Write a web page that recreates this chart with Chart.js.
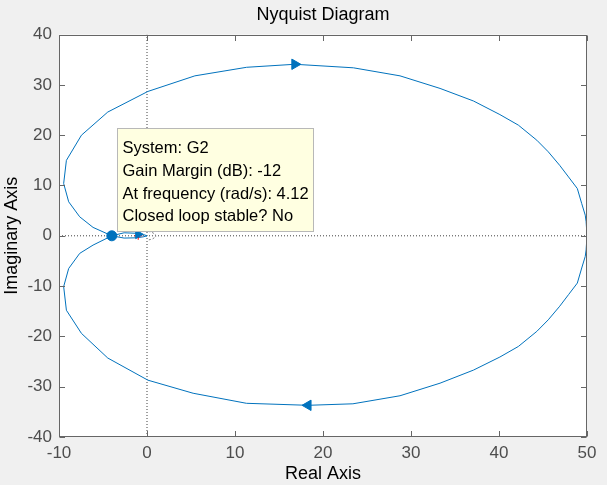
<!DOCTYPE html>
<html>
<head>
<meta charset="utf-8">
<script src="https://cdn.jsdelivr.net/npm/chart.js@4.4.1/dist/chart.umd.min.js"></script>
<style>
    html, body { margin: 0; padding: 0; background: #f0f0f0; }
    canvas { display: block; }
</style>
</head>
<body>
<canvas id="nyquist" width="607" height="485"></canvas>
<script>
// branch drawn for negative frequencies (upper half, runs origin -> (50,0))
const upperRe = [0, -0.4, -1.2, -2.6, -4.0, -6.13, -7.65, -8.9, -9.47, -9.16, -7.45, -4.46, 0.1, 5.44, 11.32, 16.8, 23.45, 28.75, 33.3, 37.1, 40.1, 42.2, 44.3, 45.6, 46.9, 47.9, 48.9, 49.4, 49.8, 49.9, 50.0];
const upperIm = [0, -0.2, -0.4, -0.45, 0, 1.67, 3.78, 6.76, 10.4, 15.0, 20.0, 24.6, 28.7, 31.8, 33.5, 34.1, 33.4, 31.8, 29.3, 26.8, 24.1, 22.0, 19.0, 16.7, 14.0, 11.7, 9.4, 6.4, 4.1, 2.8, 0];

// positive frequencies (lower half, runs (50,0) -> origin)
const lowerRe = [50.0, 49.9, 49.8, 49.4, 48.9, 47.9, 46.9, 45.6, 44.3, 42.2, 40.1, 37.1, 33.3, 28.75, 23.4, 18.3, 11.3, 5.24, 0.1, -4.46, -7.45, -9.16, -9.47, -8.9, -7.65, -6.13, -4.0, -2.6, -1.2, -0.4, 0];
const lowerIm = [0, -2.8, -4.1, -6.4, -9.4, -11.7, -14.0, -16.7, -19.0, -22.0, -24.1, -26.7, -29.3, -31.8, -33.4, -33.7, -33.3, -31.3, -28.7, -24.3, -19.4, -14.8, -10.1, -6.5, -3.5, -1.85, 0, 0.6, 0.5, 0.25, 0];

// little dashed arc next to the origin
const arcRe = [-0.3, 0.5, 0.95, 1.0, 0.6, 0.1];
const arcIm = [1.0, 0.75, 0.3, -0.2, -0.65, -0.85];

const arrowRe = [16.8, 18.3, -1.0];
const arrowIm = [34.1, -33.7, 0.3];

const marginRe = [-4.0];
const marginIm = [0];
const criticalRe = [-1];
const criticalIm = [0];

const xTickValues = [-10, 0, 10, 20, 30, 40, 50];
const yTickValues = [-40, -30, -20, -10, 0, 10, 20, 30, 40];

const tipLines = ['System: G2', 'Gain Margin (dB): -12', 'At frequency (rad/s): 4.12', 'Closed loop stable? No'];

const FONT = '"Liberation Sans", Arial, Helvetica, sans-serif';
const BLUE = '#0072bd';

const toPoints = (re, im) => re.map((r, i) => ({ x: r, y: im[i] }));

const frame = {
    id: 'frame',
    beforeDraw(chart) {
        const { ctx, chartArea: a } = chart;
        ctx.save();
        ctx.fillStyle = '#f0f0f0';
        ctx.fillRect(0, 0, chart.width, chart.height);
        ctx.fillStyle = '#ffffff';
        ctx.fillRect(a.left, a.top, a.right - a.left, a.bottom - a.top);
        ctx.restore();
    },
    afterDatasetsDraw(chart) {
        // data tip box
        const { ctx } = chart;
        ctx.save();
        ctx.fillStyle = '#ffffe1';
        ctx.strokeStyle = '#b8b8b8';
        ctx.lineWidth = 1;
        ctx.fillRect(117.5, 128.5, 196, 103);
        ctx.strokeRect(117.5, 128.5, 196, 103);
        ctx.fillStyle = '#000';
        ctx.font = '16.5px ' + FONT;
        ctx.textBaseline = 'middle';
        tipLines.forEach((t, i) => ctx.fillText(t, 122.5, 148.5 + i * 22.8));
        ctx.restore();
    },
    afterDraw(chart) {
        const { ctx, chartArea: a, scales } = chart;
        const L = Math.round(a.left) + 0.5, R = Math.round(a.right) - 0.5;
        const T = Math.round(a.top) + 0.5, B = Math.round(a.bottom) - 0.5;
        const len = 5.5;
        ctx.save();
        ctx.strokeStyle = '#666';
        ctx.lineWidth = 1;
        ctx.strokeRect(L, T, R - L, B - T);
        ctx.beginPath();
        xTickValues.forEach(v => {
            const px = Math.round(scales.x.getPixelForValue(v)) + 0.5;
            ctx.moveTo(px, B); ctx.lineTo(px, B - len);
            ctx.moveTo(px, T); ctx.lineTo(px, T + len);
        });
        yTickValues.forEach(v => {
            const py = Math.round(scales.y.getPixelForValue(v)) + 0.5;
            ctx.moveTo(L, py); ctx.lineTo(L + len, py);
            ctx.moveTo(R, py); ctx.lineTo(R - len, py);
        });
        ctx.stroke();
        ctx.restore();
    }
};

Chart.defaults.font.family = FONT;

new Chart(document.getElementById('nyquist'), {
    type: 'scatter',
    data: {
        datasets: [
            {
                data: [{ x: -10, y: 0 }, { x: 50, y: 0 }],
                showLine: true, borderColor: '#404040', borderWidth: 1, borderDash: [1, 2],
                pointRadius: 0, order: 10
            },
            {
                data: [{ x: 0, y: -40 }, { x: 0, y: 40 }],
                showLine: true, borderColor: '#404040', borderWidth: 1, borderDash: [1, 2],
                pointRadius: 0, order: 10
            },
            {
                data: toPoints(arcRe, arcIm),
                showLine: true, borderColor: '#808080', borderWidth: 1, borderDash: [2, 2],
                pointRadius: 0, order: 9
            },
            {
                data: toPoints(upperRe, upperIm),
                showLine: true, borderColor: BLUE, borderWidth: 1, pointRadius: 0, order: 5
            },
            {
                data: toPoints(lowerRe, lowerIm),
                showLine: true, borderColor: BLUE, borderWidth: 1, pointRadius: 0, order: 5
            },
            {
                data: toPoints(criticalRe, criticalIm),
                pointStyle: 'cross', pointRadius: 4, borderColor: '#ff0000', borderWidth: 1, order: 4
            },
            {
                data: toPoints(arrowRe, arrowIm),
                pointStyle: 'triangle', pointRadius: [6, 6, 5], pointRotation: [90, -90, 90],
                backgroundColor: BLUE, borderColor: BLUE, borderWidth: 1, order: 2
            },
            {
                data: toPoints(marginRe, marginIm),
                pointStyle: 'circle', pointRadius: 5, backgroundColor: BLUE, borderColor: BLUE,
                borderWidth: 1, order: 1
            }
        ]
    },
    options: {
        responsive: false,
        animation: false,
        events: [],
        layout: { padding: { left: 0, right: 20, top: 0, bottom: 0 } },
        plugins: {
            legend: { display: false },
            tooltip: { enabled: false },
            title: {
                display: true,
                text: 'Nyquist Diagram',
                fullSize: false,
                color: '#000',
                font: { size: 18, weight: 'normal' },
                padding: { top: 4, bottom: 9 }
            }
        },
        scales: {
            x: {
                type: 'linear', min: -10, max: 50,
                afterBuildTicks: s => { s.ticks = xTickValues.map(v => ({ value: v })); },
                afterFit: s => { s.height = 48; },
                grid: { display: false, drawTicks: false },
                border: { display: false },
                ticks: { color: '#4d4d4d', font: { size: 17 }, padding: 6, maxRotation: 0, autoSkip: false },
                title: {
                    display: true, text: 'Real Axis', color: '#000',
                    font: { size: 18 }, padding: { top: 0, bottom: 0 }
                }
            },
            y: {
                type: 'linear', min: -40, max: 40,
                afterBuildTicks: s => { s.ticks = yTickValues.map(v => ({ value: v })); },
                afterFit: s => { s.width = 59; },
                grid: { display: false, drawTicks: false },
                border: { display: false },
                ticks: { color: '#4d4d4d', font: { size: 17 }, padding: 7, autoSkip: false },
                title: {
                    display: true, text: 'Imaginary Axis', color: '#000',
                    font: { size: 18 }, padding: { top: 1.2, bottom: 0 }
                }
            }
        }
    },
    plugins: [frame]
});
</script>
</body>
</html>
